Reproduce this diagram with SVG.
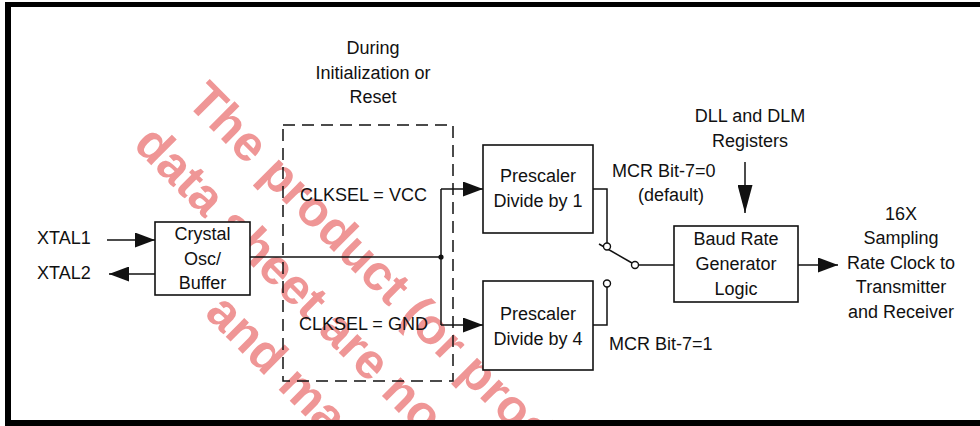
<svg xmlns="http://www.w3.org/2000/svg" width="980" height="426" viewBox="0 0 980 426">
<style>
  text { font-family: "Liberation Sans", Arial, sans-serif; font-size: 18px; fill: #111; }
  .c { text-anchor: middle; }
  .box { fill: #fff; stroke: #111; stroke-width: 1.6; }
  .ln { fill: none; stroke: #111; stroke-width: 1.5; }
  .term { fill: #fff; stroke: #111; stroke-width: 1.4; }
  .wm { font-family: "Liberation Sans", Arial, sans-serif; font-weight: bold; font-size: 50px; fill: #ef9696; }
  .frame { fill: #000; }
</style>
<defs>
  <marker id="ah" markerUnits="userSpaceOnUse" markerWidth="20" markerHeight="15" refX="20" refY="7.5" orient="auto">
    <path d="M0,0 L20,7.5 L0,15 Z" fill="#111"/>
  </marker>
  <marker id="ahL" markerUnits="userSpaceOnUse" markerWidth="28" markerHeight="15" refX="28" refY="7.5" orient="auto">
    <path d="M0,0 L28,7.5 L0,15 Z" fill="#111"/>
  </marker>
</defs>
<rect width="980" height="426" fill="#fff"/>

<g id="watermark">
  <text class="wm" x="185" y="103" transform="rotate(45 185 103)">The product (or prod</text>
  <text class="wm" x="132" y="146" transform="rotate(45 132 146)">data sheet are no</text>
  <text class="wm" x="203.5" y="314.5" transform="rotate(45 203.5 314.5)">and ma</text>
</g>

<g id="init-region">
  <rect x="283" y="125" width="170" height="256" fill="none" stroke="#111" stroke-width="1.5" stroke-dasharray="12 7"/>
  <text class="c" x="373" y="54">During</text>
  <text class="c" x="373" y="79">Initialization or</text>
  <text class="c" x="373" y="103">Reset</text>
  <text x="300" y="201">CLKSEL = VCC</text>
  <text x="299" y="330">CLKSEL = GND</text>
</g>

<g id="connectors">
  <line class="ln" x1="107" y1="240" x2="155" y2="240" marker-end="url(#ah)"/>
  <line class="ln" x1="155" y1="274" x2="109" y2="274" marker-end="url(#ah)"/>
  <line class="ln" x1="250" y1="257" x2="441" y2="257"/>
  <line class="ln" x1="441" y1="189" x2="441" y2="325"/>
  <circle cx="441" cy="257" r="2.6" fill="#111"/>
  <line class="ln" x1="441" y1="189" x2="483" y2="189" marker-end="url(#ah)"/>
  <line class="ln" x1="441" y1="325" x2="483" y2="325" marker-end="url(#ah)"/>
  <polyline class="ln" points="593,189 607,189 607,243"/>
  <polyline class="ln" points="593,325 607,325 607,287"/>
  <line class="ln" x1="599" y1="244" x2="632" y2="263"/>
  <line class="ln" x1="638.5" y1="265" x2="674" y2="265"/>
  <circle class="term" cx="607" cy="246.5" r="3.5"/>
  <circle class="term" cx="607" cy="283.5" r="3.5"/>
  <circle class="term" cx="635" cy="265" r="3.5"/>
  <line class="ln" x1="798" y1="265" x2="838" y2="265" marker-end="url(#ah)"/>
  <line class="ln" x1="745" y1="162" x2="745" y2="213" marker-end="url(#ahL)"/>
</g>

<g id="xtal-labels">
  <text x="37" y="244">XTAL1</text>
  <text x="37" y="279">XTAL2</text>
</g>

<g id="crystal-osc">
  <rect class="box" x="155" y="222" width="95" height="73"/>
  <text class="c" x="202.5" y="240">Crystal</text>
  <text class="c" x="202.5" y="265">Osc/</text>
  <text class="c" x="202.5" y="289">Buffer</text>
</g>

<g id="prescaler1">
  <rect class="box" x="483" y="145" width="110" height="88"/>
  <text class="c" x="538" y="182">Prescaler</text>
  <text class="c" x="538" y="207">Divide by 1</text>
</g>

<g id="prescaler4">
  <rect class="box" x="483" y="281" width="110" height="89"/>
  <text class="c" x="538" y="320">Prescaler</text>
  <text class="c" x="538" y="345">Divide by 4</text>
</g>

<g id="switch-labels">
  <text x="612" y="177">MCR Bit-7=0</text>
  <text class="c" x="671" y="201">(default)</text>
  <text x="609" y="350">MCR Bit-7=1</text>
</g>

<g id="dll-dlm">
  <text class="c" x="750" y="122">DLL and DLM</text>
  <text class="c" x="750" y="147">Registers</text>
</g>

<g id="baud-rate-gen">
  <rect class="box" x="674" y="226" width="124" height="76"/>
  <text class="c" x="736" y="245">Baud Rate</text>
  <text class="c" x="736" y="270">Generator</text>
  <text class="c" x="736" y="295">Logic</text>
</g>

<g id="output-label">
  <text class="c" x="901" y="219.5">16X</text>
  <text class="c" x="901" y="244">Sampling</text>
  <text class="c" x="901" y="268.5">Rate Clock to</text>
  <text class="c" x="901" y="293">Transmitter</text>
  <text class="c" x="901" y="317.5">and Receiver</text>
</g>

<g id="frame">
  <rect class="frame" x="5" y="2" width="975" height="5"/>
  <rect class="frame" x="5" y="2" width="6" height="424"/>
  <rect class="frame" x="5" y="420" width="975" height="6"/>
</g>
</svg>
